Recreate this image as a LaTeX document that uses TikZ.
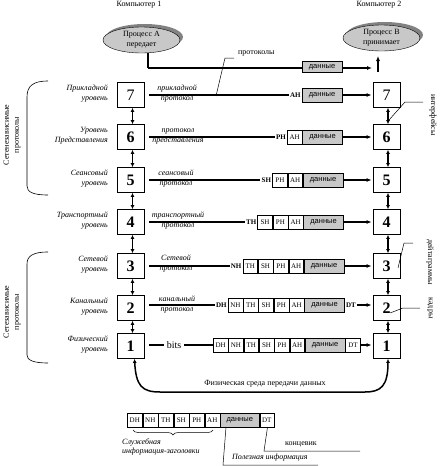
\documentclass[tikz,border=0pt]{standalone}
\usepackage{fontspec}
\setmainfont{Liberation Serif}
\newfontfamily\sansf{Liberation Sans}
\usetikzlibrary{arrows.meta,shapes.geometric,decorations.pathreplacing,calc}
\definecolor{datagray}{RGB}{200,200,200}
\definecolor{ellgray}{RGB}{200,200,200}
\definecolor{shgray}{RGB}{130,130,130}
\begin{document}
\begin{tikzpicture}[x=1pt,y=-1pt,
 lvl/.style={draw, line width=0.8pt, minimum width=27pt, minimum height=25pt, inner sep=0, font=\fontsize{16}{16}\selectfont\bfseries},
 hc/.style={draw, line width=0.5pt, minimum width=14.8pt, minimum height=14pt, inner sep=0, anchor=west, font=\fontsize{7}{8}\selectfont},
 dc/.style={hc, fill=datagray, minimum width=40pt, font=\sansf\fontsize{7.5}{8}\selectfont},
 hlab/.style={anchor=east, inner sep=1pt, font=\fontsize{7}{8}\selectfont\bfseries},
 lname/.style={anchor=east, align=right, font=\fontsize{8}{10}\selectfont\itshape, inner sep=0},
 pname/.style={align=center, font=\fontsize{8}{10}\selectfont\itshape, inner sep=0},
 txt/.style={font=\fontsize{8}{10}\selectfont, inner sep=0},
 pline/.style={line width=1.5pt},
 parr/.style={line width=1.5pt, -{Latex[length=5pt,width=4pt]}},
 varr/.style={line width=1.5pt, {Latex[length=4pt,width=4pt]}-{Latex[length=4pt,width=4pt]}},
 lead/.style={line width=0.5pt},
 ell/.style={ellipse, minimum width=77pt, minimum height=26pt, inner sep=0, align=center, font=\fontsize{8}{10}\selectfont}]
\useasboundingbox (0,0) rectangle (445,466);

% titles
\node[txt] (k1) at (139,5) {Компьютер 1};
\node[txt] (k2) at (379,5) {Компьютер 2};

% processes
\node[ell, fill=shgray] (PAs) at (144.5,37) {};
\node[ell, draw, fill=ellgray] (PA) at (141.5,40) {Процесс А\\передает};
\node[ell, fill=shgray] (PBs) at (384.5,35) {};
\node[ell, draw, fill=ellgray] (PB) at (381.5,38) {Процесс В\\принимает};

\coordinate (pa1) at (148,68);
\coordinate (pa2) at (372,68);
\coordinate (pb1) at (378,72);
\coordinate (pb2) at (378,56);
\draw[pline] (PA.south -| pa1) -- (pa1);
\draw[parr] (pa1) -- (pa2);
\draw[parr] (pb1) -- (pb2);
\node[dc, minimum height=11pt] (d0) at (301.8,67) {данные};

% protocol callout
\coordinate (pr1) at (216,96);
\coordinate (pr2) at (225,58);
\coordinate (pr3) at (234,58);
\draw[lead] (pr1) -- (pr2) -- (pr3);
\node[txt, anchor=west] (prot) at (238,53) {протоколы};

% level boxes
\node[lvl] (A7) at (130.5,95) {\mdseries 7};
\node[lvl] (A6) at (130.5,137) {6};
\node[lvl] (A5) at (130.5,180) {5};
\node[lvl] (A4) at (130.5,222) {4};
\node[lvl] (A3) at (130.5,266) {3};
\node[lvl] (A2) at (130.5,308) {2};
\node[lvl] (A1) at (130.5,346) {1};
\node[lvl] (B7) at (386.5,95) {\mdseries 7};
\node[lvl] (B6) at (386.5,137) {6};
\node[lvl] (B5) at (386.5,180) {5};
\node[lvl] (B4) at (386.5,222) {4};
\node[lvl] (B3) at (386.5,266) {3};
\node[lvl] (B2) at (386.5,308) {2};
\node[lvl] (B1) at (386.5,346) {1};

\foreach \u/\l in {7/6,6/5,5/4,4/3,3/2,2/1}{
  \draw[varr] ([xshift=2pt]A\u.south) -- ([xshift=2pt]A\l.north);
  \draw[varr] ([xshift=1.5pt]B\u.south) -- ([xshift=1.5pt]B\l.north);
}

% level names
\node[lname] (n7) at (108,94) {Прикладной\\уровень};
\node[lname] (n6) at (108,136) {Уровень\\Представления};
\node[lname] (n5) at (108,179) {Сеансовый\\уровень};
\node[lname] (n4) at (108,221) {Транспортный\\уровень};
\node[lname] (n3) at (108,265) {Сетевой\\уровень};
\node[lname] (n2) at (108,307) {Канальный\\уровень};
\node[lname] (n1) at (108,345) {Физический\\уровень};

% level 7
\node[dc] (d7) at (301.8,95) {данные};
\node[hlab] (h7) at (d7.west) {AH};
\draw[pline] ([xshift=5pt]A7.east) -- (h7.west);
\draw[parr] (d7.east) -- ([xshift=-1pt]B7.west);
\node[pname] (p7) at (177,94) {прикладной\\протокол};

% level 6
\node[hc] (c6a) at (287,137) {AH};
\node[dc] (d6) at (c6a.east) {данные};
\node[hlab] (h6) at (c6a.west) {PH};
\draw[pline] ([xshift=5pt]A6.east) -- (h6.west);
\draw[parr] (d6.east) -- ([xshift=-1pt]B6.west);
\node[pname] (p6) at (178,136) {протокол\\представления};

% level 5
\node[hc] (c5a) at (272.2,180) {PH};
\node[hc] (c5b) at (c5a.east) {AH};
\node[dc] (d5) at (c5b.east) {данные};
\node[hlab] (h5) at (c5a.west) {SH};
\draw[pline] ([xshift=5pt]A5.east) -- (h5.west);
\draw[parr] (d5.east) -- ([xshift=-1pt]B5.west);
\node[pname] (p5) at (176,179) {сеансовый\\протокол};

% level 4
\node[hc] (c4a) at (257.4,222) {SH};
\node[hc] (c4b) at (c4a.east) {PH};
\node[hc] (c4c) at (c4b.east) {AH};
\node[dc] (d4) at (c4c.east) {данные};
\node[hlab] (h4) at (c4a.west) {TH};
\draw[pline] ([xshift=5pt]A4.east) -- (h4.west);
\draw[parr] (d4.east) -- ([xshift=-1pt]B4.west);
\node[pname] (p4) at (178,221) {транспортный\\протокол};

% level 3
\node[hc] (c3a) at (242.6,266) {TH};
\node[hc] (c3b) at (c3a.east) {SH};
\node[hc] (c3c) at (c3b.east) {PH};
\node[hc] (c3d) at (c3c.east) {AH};
\node[dc] (d3) at (c3d.east) {данные};
\node[hlab] (h3) at (c3a.west) {NH};
\draw[pline] ([xshift=5pt]A3.east) -- (h3.west);
\draw[parr] (d3.east) -- ([xshift=-1pt]B3.west);
\node[pname] (p3) at (176,264) {Сетевой\\протокол};

% level 2
\node[hc] (c2a) at (227.8,305) {NH};
\node[hc] (c2b) at (c2a.east) {TH};
\node[hc] (c2c) at (c2b.east) {SH};
\node[hc] (c2d) at (c2c.east) {PH};
\node[hc] (c2e) at (c2d.east) {AH};
\node[dc] (d2) at (c2e.east) {данные};
\node[hlab] (h2) at (c2a.west) {DH};
\node[hlab, anchor=west] (t2) at (d2.east) {DT};
\draw[pline] ([xshift=5pt]A2.east |- h2.west) -- (h2.west);
\draw[parr] (t2.east) -- ([xshift=-1pt]B2.west |- t2.east);
\node[pname] (p2) at (177,305) {канальный\\протокол};

% level 1
\node[hc] (c1a) at (213,345) {DH};
\node[hc] (c1b) at (c1a.east) {NH};
\node[hc] (c1c) at (c1b.east) {TH};
\node[hc] (c1d) at (c1c.east) {SH};
\node[hc] (c1e) at (c1d.east) {PH};
\node[hc] (c1f) at (c1e.east) {AH};
\node[dc] (d1) at (c1f.east) {данные};
\node[hc] (c1g) at (d1.east) {DT};
\node[font=\fontsize{10}{10}\selectfont, inner sep=1pt] (bits) at (174,345) {bits};
\draw[pline] ([xshift=5pt]A1.east |- bits.west) -- ([xshift=-2pt]bits.west);
\draw[pline] ([xshift=2pt]bits.east) -- (c1a.west);
\draw[parr] (c1g.east) -- ([xshift=-1pt]B1.west |- c1g.east);

% physical medium
\coordinate (m1) at (160,392);
\coordinate (m2) at (365,392);
\draw[varr] ([xshift=4pt]A1.south) .. controls (136,386) and (142,392) .. (m1) -- (m2) .. controls (381,392) and (388,386) .. ([xshift=1.5pt]B1.south);
\node[txt] (phys) at (265,384) {Физическая среда передачи данных};

% left braces
\draw[line width=0.6pt] (48,81) .. controls (33,81) and (27,86) .. (27,97) -- (27,186) .. controls (27,192) and (33,195) .. (48,195);
\node[txt, rotate=90, align=center] (g1) at (12,135) {Сетенезависимые\\протоколы};
\draw[line width=0.6pt] (48,252) .. controls (33,252) and (27,256) .. (27,264) -- (27,355) .. controls (27,360) and (33,363) .. (48,363);
\node[txt, rotate=90, align=center] (g2) at (12,312) {Сетезависимые\\протоколы};

% right callouts
\coordinate (r1a) at (389,120);
\coordinate (r1b) at (405,102);
\coordinate (r1c) at (423,102);
\draw[lead] (r1a) -- (r1b) -- (r1c);
\node[txt, rotate=-90] (lab1) at (433,115) {интерфейсы};
\coordinate (r2a) at (398,268);
\coordinate (r2b) at (404,243);
\coordinate (r2c) at (413,243);
\draw[lead] (r2a) -- (r2b) -- (r2c);
\node[txt, rotate=-90] (lab2) at (430,262) {дейтаграммы};
\coordinate (r3a) at (390,313);
\coordinate (r3b) at (403,308);
\coordinate (r3c) at (420,308);
\draw[lead] (r3a) -- (r3b) -- (r3c);
\node[txt, rotate=-90] (lab3) at (430,308) {кадры};

% legend
\node[hc, minimum width=15pt] (e1) at (127,420) {DH};
\node[hc, minimum width=15pt] (e2) at (e1.east) {NH};
\node[hc, minimum width=15pt] (e3) at (e2.east) {TH};
\node[hc, minimum width=15pt] (e4) at (e3.east) {SH};
\node[hc, minimum width=15pt] (e5) at (e4.east) {PH};
\node[hc, minimum width=15pt] (e6) at (e5.east) {AH};
\node[dc, minimum width=39pt] (e7) at (e6.east) {данные};
\node[hc, minimum width=14pt] (e8) at (e7.east) {DT};
\coordinate (b1) at (133,430);
\coordinate (b2) at (213,430);
\draw[line width=0.5pt, decorate, decoration={brace, mirror, amplitude=5pt}] (b1) -- (b2);
\node[txt, anchor=north west, align=left, font=\fontsize{8}{9}\selectfont\itshape] (sl) at (122,439) {Служебная\\информация-заголовки};
\coordinate (q1) at (223,465);
\coordinate (q2) at (318,465);
\draw[lead] ([xshift=6pt]e7.south west) -- (q1) -- (q2);
\node[txt, anchor=west, font=\fontsize{8}{10}\selectfont\itshape] (pl) at (232,458) {Полезная информация};
\coordinate (s1) at (264,451);
\coordinate (s2) at (360,451);
\draw[lead] ([xshift=8pt]e8.south west) -- (s1) -- (s2);
\node[txt, anchor=west] (kon) at (285,444) {концевик};
\end{tikzpicture}
\end{document}
